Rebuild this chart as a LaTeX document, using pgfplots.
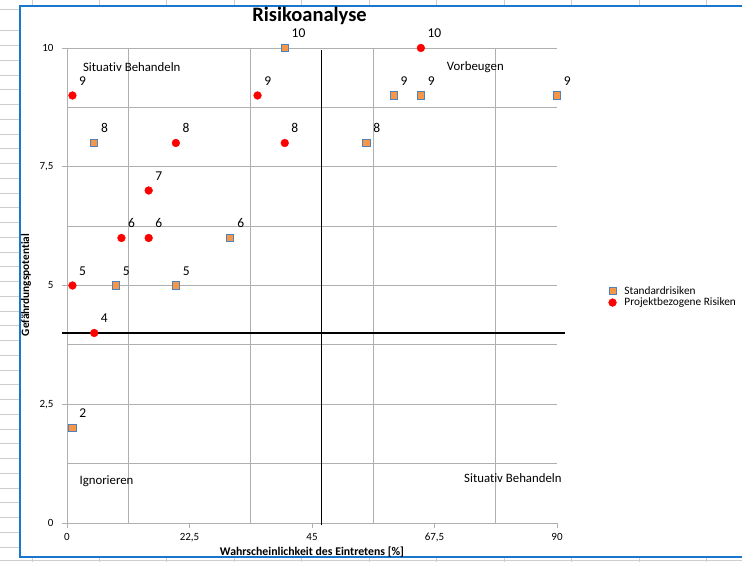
\documentclass[border=0pt]{standalone}
\usepackage{fontspec}
\setmainfont{Carlito}[Ligatures=NoCommon]
\usepackage{pgfplots}
\pgfplotsset{compat=1.18}
\definecolor{sqfill}{RGB}{247,150,70}
\definecolor{sqdraw}{RGB}{79,129,189}
\definecolor{frameblue}{RGB}{24,118,204}
\definecolor{sheet}{RGB}{205,205,205}
\definecolor{gridc}{RGB}{175,175,175}
\begin{document}
\begin{tikzpicture}
\begin{scope}[x=1bp,y=1bp]
\path[use as bounding box, fill=white] (0,0) rectangle (742,562);
% spreadsheet background
\draw[sheet, line width=1bp] (0,552) -- (19,552);
\foreach \k in {0,...,35} {\draw[sheet, line width=1bp] (0,{531-14.75*\k}) -- (19,{531-14.75*\k});}
\foreach \k in {0,...,10} {
  \draw[sheet, line width=1bp] ({32+67.45*\k},556) -- ({32+67.45*\k},562);
  \draw[sheet, line width=1bp] ({32+67.45*\k},0) -- ({32+67.45*\k},5);
}
\draw[sheet, line width=1bp] (0,1.5) -- (742,1.5);
% chart frame
\fill[white] (20,5) rectangle (742,556);
\draw[frameblue, line width=2bp] (742,556) -- (20,556) -- (20,5) -- (742,5);
% title and axis labels
\node[font=\fontsize{20.5bp}{24bp}\selectfont\bfseries] at (309.5,546) {Risikoanalyse};
\node[font=\fontsize{11.8bp}{13bp}\selectfont\bfseries] at (312,9.5) {Wahrscheinlichkeit des Eintretens [\%]};
\node[font=\fontsize{11.3bp}{13bp}\selectfont\bfseries, rotate=90] at (26,277) {Gefährdungspotential};
\end{scope}
\begin{axis}[
  at={(67bp,39bp)}, anchor=south west,
  scale only axis, width=490bp, height=475bp,
  xmin=0, xmax=90, ymin=0, ymax=10,
  clip=false,
  axis x line*=bottom, axis y line*=left,
  axis line style={draw=gridc, line width=0.8bp, -},
  xtick={0,22.5,45,67.5,90},
  minor xtick={11.25,33.75,56.25,78.75},
  ytick={0,2.5,5,7.5,10},
  minor ytick={1.25,3.75,6.25,8.75},
  xmajorgrids=false, xminorgrids=true,
  ymajorgrids=true, yminorgrids=true,
  major grid style={draw=gridc, line width=0.8bp},
  minor grid style={draw=gridc, line width=0.8bp},
  minor tick length=0pt, major tick length=5bp,
  tick align=outside,
  tick style={draw=gridc, line width=0.8bp},
  /pgf/number format/assume math mode=true,
  /pgf/number format/use comma,
  tick label style={font=\fontsize{11bp}{12bp}\selectfont, text=black},
  xticklabel style={yshift=-2bp},
  yticklabel style={xshift=-5bp},
  legend style={at={(rel axis cs:1.105,0.476)}, anchor=west, draw=none, fill=none,
    font=\fontsize{11.3bp}{12bp}\selectfont, inner sep=0pt, row sep=-2bp,
    /tikz/every odd column/.append style={column sep=6bp}},
  legend cell align=left,
  legend image code/.code={\draw[mark repeat=2,mark phase=2,#1] plot coordinates {(-6bp,0bp)(0bp,0bp)(6bp,0bp)};},
  nodes near coords,
  point meta=y,
  nodes near coords style={font=\fontsize{13.5bp}{15bp}\selectfont, anchor=base west, inner sep=0pt, xshift=6.5bp, yshift=10bp, text=black},
]
\addplot[black, line width=1.5bp, forget plot, nodes near coords={}] coordinates {(-0.9,4) (91.5,4)};
\addplot[black, line width=1.5bp, forget plot, nodes near coords={}] coordinates {(46.7,-0.05) (46.7,9.95)};
\addplot[only marks, mark=square*, mark size=3.6bp, mark options={fill=sqfill, draw=sqdraw, line width=0.9bp}] coordinates {
(1,2) (5,8) (9,5) (20,5) (30,6) (40,10) (55,8) (60,9) (65,9) (90,9)
};
\addlegendentry{Standardrisiken}
\addplot[only marks, mark=*, mark size=3.9bp, mark options={fill=red, draw=red}] coordinates {
(1,9) (1,5) (5,4) (10,6) (15,6) (15,7) (20,8) (35,9) (40,8) (65,10)
};
\addlegendentry{Projektbezogene Risiken}
\node[font=\fontsize{12.8bp}{14bp}\selectfont] at (axis cs:11.9,9.6) {Situativ Behandeln};
\node[font=\fontsize{12.8bp}{14bp}\selectfont] at (axis cs:75.0,9.6) {Vorbeugen};
\node[font=\fontsize{12.8bp}{14bp}\selectfont] at (axis cs:7.25,0.88) {Ignorieren};
\node[font=\fontsize{12.8bp}{14bp}\selectfont] at (axis cs:81.9,0.95) {Situativ Behandeln};
\end{axis}
\end{tikzpicture}
\end{document}
